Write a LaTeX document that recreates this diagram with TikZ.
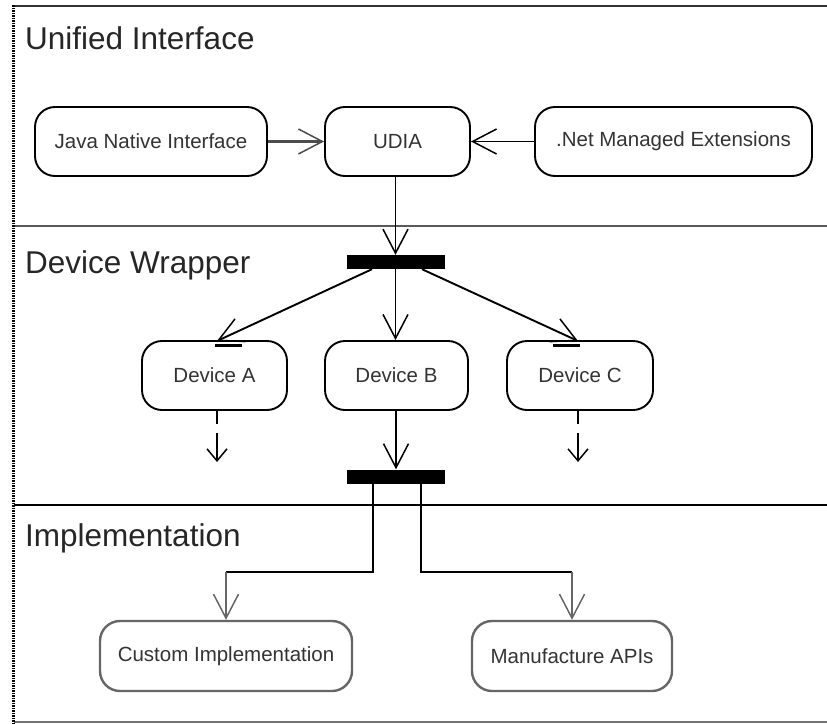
\documentclass[tikz,border=0pt]{standalone}
\usepackage{fontspec}
\setmainfont{Liberation Sans}
\usetikzlibrary{arrows.meta,calc}
\begin{document}
\begin{tikzpicture}[x=1pt,y=-1pt,
  box/.style={draw=black,line width=1.9pt,rounded corners=20pt,minimum height=69pt,inner sep=0pt,
    font=\fontsize{20.5}{24}\selectfont,text=black!80},
  gbox/.style={box,draw=black!60,line width=2.4pt},
  bar/.style={fill=black,draw=none,minimum width=98pt,minimum height=14pt,inner sep=0pt},
  lanetitle/.style={anchor=base west,inner sep=0pt,font=\fontsize{31.5}{36}\selectfont,text=black!85},
  flow/.style={line width=1.9pt,-{Straight Barb[length=24pt,width=25pt,line width=1.5pt]}},
  gflow/.style={flow,draw=black!60,line width=2.4pt},
  smallflow/.style={line width=1.9pt,-{Straight Barb[length=12pt,width=20pt,line width=1.5pt]},
    dash pattern=on 13pt off 9pt on 40pt off 9pt},
  lane/.style={line width=2pt}
]
\useasboundingbox (0,0) rectangle (827,723);

% lanes
\draw[lane,black!80] (14,6) -- (827,6);
\draw[lane,black!65,line width=2.8pt] (14,226) -- (827,226);
\draw[lane,black,line width=1.9pt] (14,505) -- (827,505);
\draw[lane,black!55,line width=1.8pt] (14,722) -- (827,722);
\draw[line width=3pt,dash pattern=on 1.5pt off 1pt] (13,5) -- (13,723);

\node[lanetitle] (t1) at (25,49) {Unified Interface};
\node[lanetitle] (t2) at (25,273) {Device Wrapper};
\node[lanetitle] (t3) at (25,546) {Implementation};

% top lane
\node[box,minimum width=232pt] (jni) at (151,141.5) {Java Native Interface};
\node[box,minimum width=145pt] (udia) at (397.5,141.5) {UDIA};
\node[box,minimum width=277pt] (net) at (673.5,141.5) {.Net Managed Extensions};
\draw[flow,draw=black!70,line width=2.6pt] (jni) -- (udia);
\draw[flow] (net) -- (udia);

% bars
\node[bar] (bar1) at (395.5,262) {};
\node[bar] (bar2) at (396,476.5) {};

\draw[flow] (udia.south -| bar1.north) -- (bar1.north);

% devices
\node[box,minimum width=145pt] (devA) at (214.5,375.5) {Device A};
\node[box,minimum width=143pt] (devB) at (396.5,375.5) {Device B};
\node[box,minimum width=146pt] (devC) at (580,375.5) {Device C};

\coordinate (a1) at ($(bar1.south)+(-23.5,0)$);
\coordinate (c1) at ($(bar1.south)+(26.5,0)$);
\coordinate (atop) at (217,341);
\coordinate (ctop) at (578,341);
\draw[flow] (a1) -- (atop);
\draw[flow] (bar1.south) -- (bar1.south |- devB.north);
\draw[flow] (c1) -- (ctop);
\draw[line width=2.2pt] (215,345.5) -- (242,345.5);
\draw[line width=2.2pt] (553,345.5) -- (580,345.5);

\coordinate (aend) at (217,462);
\coordinate (cend) at (578,462);
\draw[smallflow] (devA.south -| aend) -- (aend);
\draw[smallflow] (devC.south -| cend) -- (cend);
\draw[flow] (devB.south -| bar2.north) -- (bar2.north);

% implementation
\node[gbox,minimum width=252pt,minimum height=70pt] (cust) at (226,656) {Custom Implementation};
\node[gbox,minimum width=200pt,minimum height=70pt] (manu) at (572,656) {Manufacture APIs};

\coordinate (l1) at ($(bar2.south)+(-23,0)$);
\coordinate (r1) at ($(bar2.south)+(25,0)$);
\coordinate (lk) at (226,572);
\coordinate (rk) at (572,572);
\draw[line width=1.9pt] (l1) |- (lk);
\draw[line width=1.9pt] (r1) |- (rk);
\draw[gflow] (lk) -- (cust.north);
\draw[gflow] (rk) -- (manu.north);
\end{tikzpicture}
\end{document}
